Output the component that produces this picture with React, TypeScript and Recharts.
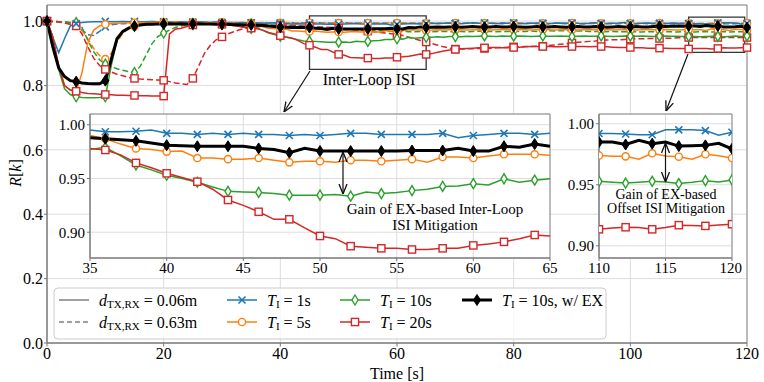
import React from 'react';
import { LineChart, Line, XAxis, YAxis, CartesianGrid, ReferenceArea } from 'recharts';

// time axis, one sample per second
const TIME = Array.from({ length: 121 }, (_, i) => i);

// d_TX,RX = 0.06 m
const T1_NEAR = [
  1.0, 0.95, 0.902, 0.945, 0.985, 0.992, 0.996, 0.997, 0.998, 0.998,
  0.999, 0.998, 0.998, 0.999, 0.998, 0.999, 0.998, 0.998, 0.999, 0.998,
  0.998, 0.998, 0.997, 0.998, 0.997, 0.997, 0.998, 0.997, 0.996, 0.997,
  0.996, 0.996, 0.995, 0.996, 0.995, 0.995, 0.9935, 0.9935, 0.994, 0.995,
  0.992, 0.992, 0.991, 0.992, 0.991, 0.992, 0.991, 0.991, 0.99, 0.991,
  0.99, 0.991, 0.992, 0.992, 0.991, 0.991, 0.991, 0.991, 0.992, 0.988,
  0.99, 0.991, 0.992, 0.992, 0.991, 0.992, 0.993, 0.992, 0.993, 0.994,
  0.993, 0.992, 0.993, 0.995, 0.993, 0.994, 0.993, 0.992, 0.994, 0.993,
  0.995, 0.993, 0.992, 0.993, 0.994, 0.993, 0.992, 0.993, 0.994, 0.993,
  0.994, 0.993, 0.992, 0.993, 0.995, 0.993, 0.992, 0.993, 0.994, 0.996,
  0.993, 0.992, 0.993, 0.994, 0.993, 0.993, 0.992, 0.994, 0.993, 0.993,
  0.992, 0.992, 0.9916, 0.991, 0.991, 0.995, 0.995, 0.995, 0.9944, 0.9907, 0.993,
];
const T5_NEAR = [
  1.0, 0.95, 0.86, 0.8, 0.786, 0.78, 0.84, 0.933, 0.972, 0.985,
  0.99, 0.992, 0.993, 0.994, 0.995, 0.995, 0.996, 0.996, 0.996, 0.997,
  0.997, 0.996, 0.997, 0.996, 0.996, 0.995, 0.996, 0.995, 0.995, 0.994,
  0.994, 0.993, 0.993, 0.992, 0.991, 0.99, 0.987, 0.982, 0.978, 0.977,
  0.975, 0.9755, 0.969, 0.969, 0.968, 0.9678, 0.969, 0.967, 0.965, 0.966,
  0.966, 0.9652, 0.967, 0.967, 0.966, 0.967, 0.968, 0.9652, 0.97, 0.97,
  0.969, 0.971, 0.9725, 0.9725, 0.9725, 0.9715, 0.972, 0.973, 0.972, 0.973,
  0.974, 0.973, 0.972, 0.973, 0.974, 0.973, 0.972, 0.973, 0.974, 0.973,
  0.973, 0.974, 0.973, 0.972, 0.973, 0.974, 0.973, 0.972, 0.973, 0.974,
  0.973, 0.972, 0.973, 0.974, 0.973, 0.974, 0.973, 0.972, 0.973, 0.974,
  0.973, 0.972, 0.973, 0.974, 0.973, 0.973, 0.974, 0.973, 0.972, 0.973,
  0.974, 0.9733, 0.9733, 0.971, 0.9758, 0.9735, 0.973, 0.971, 0.975, 0.9738, 0.972,
];
const T10_NEAR = [
  1.0, 0.95, 0.85, 0.79, 0.772, 0.765, 0.763, 0.762, 0.762, 0.763,
  0.765, 0.86, 0.94, 0.968, 0.978, 0.984, 0.987, 0.989, 0.99, 0.991,
  0.992, 0.992, 0.993, 0.992, 0.993, 0.992, 0.992, 0.991, 0.991, 0.99,
  0.99, 0.989, 0.987, 0.984, 0.98, 0.977, 0.979, 0.971, 0.9626, 0.958,
  0.953, 0.95, 0.9465, 0.942, 0.938, 0.9375, 0.937, 0.936, 0.9345, 0.9345,
  0.9345, 0.935, 0.9335, 0.9375, 0.936, 0.937, 0.9387, 0.94, 0.9426, 0.943,
  0.9452, 0.944, 0.9497, 0.9465, 0.9484, 0.9497, 0.95, 0.951, 0.95, 0.952,
  0.952, 0.951, 0.953, 0.952, 0.953, 0.954, 0.953, 0.952, 0.954, 0.953,
  0.953, 0.954, 0.953, 0.952, 0.953, 0.954, 0.953, 0.953, 0.954, 0.953,
  0.952, 0.953, 0.954, 0.953, 0.953, 0.954, 0.953, 0.952, 0.953, 0.954,
  0.953, 0.953, 0.954, 0.953, 0.952, 0.953, 0.954, 0.953, 0.953, 0.952,
  0.9528, 0.952, 0.9514, 0.952, 0.9528, 0.9522, 0.951, 0.952, 0.9534, 0.9522, 0.954,
];
const T20_NEAR = [
  1.0, 0.95, 0.86, 0.8, 0.786, 0.782, 0.778, 0.775, 0.774, 0.773,
  0.772, 0.771, 0.77, 0.77, 0.769, 0.769, 0.768, 0.768, 0.767, 0.767,
  0.767, 0.96, 0.975, 0.978, 0.983, 0.988, 0.99, 0.99, 0.991, 0.99,
  0.99, 0.988, 0.986, 0.983, 0.98, 0.978, 0.9765, 0.972, 0.9645, 0.96,
  0.9548, 0.951, 0.947, 0.94, 0.93, 0.925, 0.919, 0.912, 0.912, 0.904,
  0.8965, 0.894, 0.887, 0.886, 0.885, 0.885, 0.8839, 0.884, 0.885, 0.885,
  0.8877, 0.889, 0.891, 0.894, 0.8974, 0.8965, 0.899, 0.903, 0.907, 0.91,
  0.912, 0.914, 0.915, 0.916, 0.917, 0.917, 0.918, 0.918, 0.917, 0.917,
  0.918, 0.919, 0.92, 0.921, 0.921, 0.921, 0.921, 0.92, 0.92, 0.921,
  0.921, 0.921, 0.921, 0.92, 0.921, 0.921, 0.92, 0.919, 0.918, 0.918,
  0.918, 0.917, 0.917, 0.916, 0.916, 0.916, 0.916, 0.915, 0.915, 0.915,
  0.9135, 0.9145, 0.9152, 0.915, 0.9135, 0.915, 0.9169, 0.9166, 0.9163, 0.917, 0.9177,
];

// d_TX,RX = 0.63 m
const T1_FAR = [
  1.0, 0.999, 0.998, 0.997, 0.995, 0.988, 0.972, 0.958, 0.955, 0.968,
  0.982, 0.988, 0.991, 0.992, 0.993, 0.993, 0.994, 0.994, 0.995, 0.995,
  0.996, 0.995, 0.996, 0.996, 0.995, 0.996, 0.996, 0.995, 0.996, 0.996,
  0.995, 0.996, 0.995, 0.995, 0.996, 0.995, 0.995, 0.994, 0.995, 0.995,
  0.995, 0.994, 0.995, 0.994, 0.995, 0.994, 0.994, 0.995, 0.994, 0.994,
  0.994, 0.995, 0.994, 0.994, 0.993, 0.994, 0.994, 0.993, 0.994, 0.994,
  0.993, 0.994, 0.993, 0.994, 0.993, 0.993, 0.994, 0.993, 0.993, 0.994,
  0.993, 0.993, 0.994, 0.993, 0.993, 0.994, 0.993, 0.993, 0.992, 0.993,
  0.993, 0.992, 0.993, 0.993, 0.992, 0.993, 0.992, 0.993, 0.993, 0.992,
  0.993, 0.992, 0.992, 0.993, 0.992, 0.992, 0.993, 0.992, 0.992, 0.993,
  0.992, 0.992, 0.993, 0.992, 0.992, 0.992, 0.993, 0.992, 0.992, 0.992,
  0.992, 0.993, 0.992, 0.992, 0.992, 0.993, 0.992, 0.992, 0.992, 0.993, 0.992,
];
const T5_FAR = [
  1.0, 0.999, 0.998, 0.995, 0.99, 0.985, 0.97, 0.945, 0.915, 0.893,
  0.882, 0.9, 0.935, 0.962, 0.976, 0.983, 0.987, 0.99, 0.992, 0.993,
  0.994, 0.995, 0.995, 0.996, 0.995, 0.996, 0.996, 0.995, 0.996, 0.996,
  0.996, 0.995, 0.996, 0.995, 0.996, 0.995, 0.995, 0.996, 0.995, 0.995,
  0.995, 0.996, 0.995, 0.995, 0.994, 0.995, 0.995, 0.994, 0.995, 0.995,
  0.994, 0.995, 0.994, 0.995, 0.995, 0.994, 0.995, 0.994, 0.994, 0.995,
  0.994, 0.994, 0.995, 0.994, 0.994, 0.993, 0.994, 0.994, 0.993, 0.994,
  0.994, 0.993, 0.994, 0.994, 0.993, 0.994, 0.993, 0.994, 0.994, 0.993,
  0.993, 0.994, 0.993, 0.993, 0.994, 0.993, 0.993, 0.994, 0.993, 0.993,
  0.994, 0.993, 0.993, 0.994, 0.993, 0.993, 0.994, 0.993, 0.993, 0.994,
  0.993, 0.993, 0.994, 0.993, 0.993, 0.994, 0.993, 0.993, 0.994, 0.993,
  0.993, 0.994, 0.993, 0.993, 0.994, 0.993, 0.993, 0.994, 0.993, 0.993, 0.994,
];
const T10_FAR = [
  1.0, 0.999, 0.998, 0.997, 0.996, 0.995, 0.98, 0.94, 0.905, 0.88,
  0.866, 0.858, 0.852, 0.847, 0.843, 0.84, 0.86, 0.895, 0.93, 0.952,
  0.963, 0.972, 0.98, 0.985, 0.988, 0.99, 0.991, 0.991, 0.992, 0.991,
  0.991, 0.991, 0.99, 0.99, 0.99, 0.99, 0.989, 0.989, 0.988, 0.988,
  0.987, 0.986, 0.985, 0.984, 0.983, 0.982, 0.981, 0.979, 0.978, 0.976,
  0.975, 0.974, 0.973, 0.973, 0.972, 0.971, 0.97, 0.97, 0.969, 0.969,
  0.968, 0.968, 0.967, 0.967, 0.968, 0.968, 0.967, 0.968, 0.968, 0.967,
  0.968, 0.968, 0.967, 0.968, 0.969, 0.968, 0.968, 0.967, 0.968, 0.968,
  0.969, 0.968, 0.968, 0.969, 0.968, 0.969, 0.97, 0.969, 0.97, 0.97,
  0.97, 0.969, 0.969, 0.968, 0.968, 0.968, 0.967, 0.968, 0.967, 0.967,
  0.967, 0.967, 0.966, 0.967, 0.967, 0.966, 0.967, 0.967, 0.966, 0.967,
  0.967, 0.966, 0.967, 0.967, 0.966, 0.967, 0.967, 0.966, 0.967, 0.967, 0.966,
];
const T20_FAR = [
  1.0, 0.999, 0.997, 0.994, 0.99, 0.985, 0.96, 0.92, 0.885, 0.862,
  0.85, 0.842, 0.835, 0.83, 0.825, 0.822, 0.82, 0.819, 0.818, 0.817,
  0.816, 0.812, 0.808, 0.805, 0.803, 0.822, 0.86, 0.9, 0.925, 0.942,
  0.951, 0.96, 0.967, 0.973, 0.978, 0.98, 0.982, 0.984, 0.985, 0.986,
  0.988, 0.988, 0.987, 0.986, 0.985, 0.984, 0.983, 0.982, 0.981, 0.98,
  0.979, 0.977, 0.975, 0.973, 0.971, 0.969, 0.967, 0.965, 0.963, 0.961,
  0.959, 0.955, 0.95, 0.945, 0.94, 0.935, 0.93, 0.925, 0.92, 0.916,
  0.913, 0.913, 0.914, 0.914, 0.915, 0.915, 0.916, 0.917, 0.918, 0.919,
  0.92, 0.92, 0.921, 0.921, 0.922, 0.922, 0.924, 0.926, 0.928, 0.93,
  0.932, 0.934, 0.936, 0.937, 0.938, 0.94, 0.941, 0.942, 0.942, 0.943,
  0.944, 0.945, 0.945, 0.946, 0.946, 0.946, 0.947, 0.947, 0.948, 0.948,
  0.949, 0.949, 0.949, 0.949, 0.949, 0.949, 0.949, 0.949, 0.949, 0.949, 0.949,
];

// T_I = 10 s with EX, d_TX,RX = 0.06 m
const T10_EX = [
  1.0, 0.92, 0.855, 0.828, 0.815, 0.812, 0.808, 0.806, 0.805, 0.805,
  0.815, 0.88, 0.945, 0.968, 0.978, 0.985, 0.988, 0.99, 0.99, 0.991,
  0.991, 0.992, 0.991, 0.992, 0.991, 0.991, 0.992, 0.991, 0.991, 0.99,
  0.99, 0.99, 0.989, 0.989, 0.988, 0.988, 0.987, 0.986, 0.985, 0.983,
  0.981, 0.9805, 0.98, 0.98, 0.98, 0.98, 0.978, 0.977, 0.974, 0.978,
  0.9755, 0.9755, 0.9755, 0.9755, 0.9755, 0.9755, 0.976, 0.976, 0.976, 0.978,
  0.9755, 0.9755, 0.98, 0.979, 0.982, 0.98, 0.981, 0.982, 0.981, 0.982,
  0.982, 0.981, 0.982, 0.983, 0.982, 0.981, 0.982, 0.983, 0.982, 0.982,
  0.983, 0.982, 0.981, 0.982, 0.983, 0.982, 0.982, 0.983, 0.982, 0.981,
  0.982, 0.983, 0.982, 0.982, 0.983, 0.982, 0.981, 0.982, 0.983, 0.982,
  0.982, 0.983, 0.982, 0.982, 0.983, 0.984, 0.983, 0.984, 0.985, 0.984,
  0.985, 0.985, 0.983, 0.9865, 0.9837, 0.985, 0.9817, 0.982, 0.9823, 0.984, 0.9795,
];

const MAIN_X_TICKS = [0, 20, 40, 60, 80, 100, 120];
const MAIN_Y_TICKS = [0, 0.2, 0.4, 0.6, 0.8, 1.0];
const ZOOM1_X_TICKS = [35, 40, 45, 50, 55, 60, 65];
const ZOOM2_X_TICKS = [110, 115, 120];
const ZOOM_Y_TICKS = [0.9, 0.95, 1.0];

const BLUE = '#1f77b4';
const ORANGE = '#ff7f0e';
const GREEN = '#2ca02c';
const RED = '#d62728';
const FONT = 'Liberation Serif, DejaVu Serif, Times New Roman, serif';

const rows = TIME.map((t, i) => ({
  t,
  b1: T1_NEAR[i], o1: T5_NEAR[i], g1: T10_NEAR[i], r1: T20_NEAR[i],
  b2: T1_FAR[i], o2: T5_FAR[i], g2: T10_FAR[i], r2: T20_FAR[i],
  ex: T10_EX[i],
}));
const zoom1Rows = rows.filter((r) => r.t >= 35 && r.t <= 65);
const zoom2Rows = rows.filter((r) => r.t >= 110 && r.t <= 120);

const SOLID = [
  { key: 'b1', color: BLUE, kind: 'x' },
  { key: 'o1', color: ORANGE, kind: 'o' },
  { key: 'g1', color: GREEN, kind: 'd' },
  { key: 'r1', color: RED, kind: 's' },
];
const DASHED = [
  { key: 'b2', color: BLUE, kind: 'x' },
  { key: 'o2', color: ORANGE, kind: 'o' },
  { key: 'g2', color: GREEN, kind: 'd' },
  { key: 'r2', color: RED, kind: 's' },
];

function markerShape(kind: string, x: number, y: number, color: string) {
  if (kind === 'x') {
    return (
      <g stroke={color} strokeWidth={1.6}>
        <line x1={x - 3.5} y1={y - 3.5} x2={x + 3.5} y2={y + 3.5} />
        <line x1={x - 3.5} y1={y + 3.5} x2={x + 3.5} y2={y - 3.5} />
      </g>
    );
  }
  if (kind === 'o') return <circle cx={x} cy={y} r={3.6} fill="#fff" stroke={color} strokeWidth={1.4} />;
  if (kind === 's') return <rect x={x - 3.6} y={y - 3.6} width={7.2} height={7.2} fill="#fff" stroke={color} strokeWidth={1.4} />;
  if (kind === 'd') {
    return <polygon points={`${x},${y - 5} ${x + 3},${y} ${x},${y + 5} ${x - 3},${y}`} fill="#fff" stroke={color} strokeWidth={1.4} />;
  }
  return <polygon points={`${x},${y - 5.5} ${x + 3.5},${y} ${x},${y + 5.5} ${x - 3.5},${y}`} fill="#000" stroke="#000" strokeWidth={1} />;
}

const dotEvery = (kind: string, color: string, step: number) => (p: any) => {
  const key = `${kind}-${color}-${p.index}`;
  if (!p.payload || p.payload.t % step !== 0 || p.cx == null) return <g key={key} />;
  return <g key={key}>{markerShape(kind, p.cx, p.cy, color)}</g>;
};

const tickStyle = (size: number) => ({ fontSize: size, fill: '#000', fontFamily: FONT, style: { fontFamily: FONT } });

function seriesLines(step: number, withDashed: boolean) {
  const out: React.ReactNode[] = [];
  if (withDashed) {
    DASHED.forEach((s) =>
      out.push(
        <Line key={s.key} type="linear" dataKey={s.key} stroke={s.color} strokeWidth={1.5}
          strokeDasharray="6 3" dot={dotEvery(s.kind, s.color, step)} activeDot={false} isAnimationActive={false} />
      )
    );
  }
  SOLID.forEach((s) =>
    out.push(
      <Line key={s.key} type="linear" dataKey={s.key} stroke={s.color} strokeWidth={1.5}
        dot={dotEvery(s.kind, s.color, step)} activeDot={false} isAnimationActive={false} />
    )
  );
  out.push(
    <Line key="ex" type="linear" dataKey="ex" stroke="#000" strokeWidth={3}
      dot={dotEvery('ex', '#000', step)} activeDot={false} isAnimationActive={false} />
  );
  return out;
}

function Inset({ data, xDomain, xTicks, yDomain, width, yWidth }: any) {
  return (
    <LineChart width={width} height={168} data={data} margin={{ top: 4, right: 10, bottom: 0, left: 0 }}>
      <CartesianGrid stroke="#dddddd" fill="#fff" fillOpacity={1} />
      <XAxis dataKey="t" type="number" domain={xDomain} ticks={xTicks} allowDataOverflow height={20}
        tickSize={3} tickMargin={1} stroke="#777" tick={tickStyle(15)} />
      <YAxis type="number" domain={yDomain} ticks={ZOOM_Y_TICKS} allowDataOverflow width={yWidth}
        tickSize={3} tickMargin={2} stroke="#777" tick={tickStyle(15)} tickFormatter={(v: number) => v.toFixed(2)} />
      {seriesLines(2, false)}
      <ReferenceArea x1={xDomain[0]} x2={xDomain[1]} y1={yDomain[0]} y2={yDomain[1]}
        fillOpacity={0} stroke="#888" strokeWidth={1} ifOverflow="visible" />
    </LineChart>
  );
}

function LegendRow({ x, y, kind, color, dashed, thick, children }: any) {
  return (
    <g>
      <line x1={x} y1={y} x2={x + 30} y2={y} stroke={color} strokeWidth={thick ? 3 : 1.5}
        strokeDasharray={dashed ? '5 3' : undefined} />
      {kind ? markerShape(kind, x + 15, y, color) : null}
      <text x={x + 40} y={y} dominantBaseline="central" fontSize={16} style={{ fontFamily: FONT }}>{children}</text>
    </g>
  );
}

const TI = (label: string) => (
  <>
    <tspan fontStyle="italic">T</tspan>
    <tspan fontSize={11} dy={4}>I</tspan>
    <tspan dy={-4}>{` =  ${label}`}</tspan>
  </>
);
const DIST = (label: string) => (
  <>
    <tspan fontStyle="italic">d</tspan>
    <tspan fontSize={11} dy={4}>TX,RX</tspan>
    <tspan dy={-4}>{` = ${label}`}</tspan>
  </>
);

function Label({ x, y, size, children }: any) {
  return (
    <text x={x} y={y} textAnchor="middle" dominantBaseline="central" fontSize={size} style={{ fontFamily: FONT }}>
      {children}
    </text>
  );
}

function Overlay() {
  return (
    <svg width={764} height={382} style={{ position: 'absolute', left: 0, top: 0, pointerEvents: 'none' }}>
      <defs>
        <marker id="head" viewBox="0 0 10 10" refX="10" refY="5" markerWidth="10" markerHeight="10"
          markerUnits="userSpaceOnUse" orient="auto-start-reverse">
          <path d="M0,1 L10,5 L0,9" fill="none" stroke="#111" strokeWidth={1.3} />
        </marker>
      </defs>
      <Label x={369} y={79} size={16}>Inter-Loop ISI</Label>
      <line x1={310} y1={71} x2={284} y2={112} stroke="#111" strokeWidth={1.2} markerEnd="url(#head)" />
      <line x1={688} y1={54} x2={666} y2={111} stroke="#111" strokeWidth={1.2} markerEnd="url(#head)" />

      <line x1={343} y1={152} x2={343} y2={194} stroke="#111" strokeWidth={1.2} markerStart="url(#head)" markerEnd="url(#head)" />
      <Label x={435} y={209} size={15}>Gain of EX-based Inter-Loop</Label>
      <Label x={435} y={225} size={15}>ISI Mitigation</Label>

      <line x1={665.5} y1={143} x2={665.5} y2={182} stroke="#111" strokeWidth={1.2} markerStart="url(#head)" markerEnd="url(#head)" />
      <Label x={666} y={194} size={14}>Gain of EX-based</Label>
      <Label x={666} y={208} size={14}>Offset ISI Mitigation</Label>

      <rect x={54} y={288} width={552} height={51} rx={4} fill="#fff" fillOpacity={0.8} stroke="#cccccc" />
      <LegendRow x={59} y={300} color="#808080">{DIST('0.06m')}</LegendRow>
      <LegendRow x={59} y={322} color="#808080" dashed>{DIST('0.63m')}</LegendRow>
      <LegendRow x={227} y={300} kind="x" color={BLUE}>{TI('1s')}</LegendRow>
      <LegendRow x={227} y={322} kind="o" color={ORANGE}>{TI('5s')}</LegendRow>
      <LegendRow x={340} y={300} kind="d" color={GREEN}>{TI('10s')}</LegendRow>
      <LegendRow x={340} y={322} kind="s" color={RED}>{TI('20s')}</LegendRow>
      <LegendRow x={462} y={300} kind="ex" color="#000" thick>{TI('10s, w/ EX')}</LegendRow>

      <Label x={397} y={373} size={16}>Time [s]</Label>
      <text transform="translate(15,173) rotate(-90)" textAnchor="middle" dominantBaseline="central" fontSize={16} style={{ fontFamily: FONT }}>
        <tspan fontStyle="italic">R</tspan>[<tspan fontStyle="italic">k</tspan>]
      </text>
    </svg>
  );
}

export default function App() {
  return (
    <div style={{ position: 'absolute', left: 0, top: 0, width: 764, height: 382, background: '#fff', fontFamily: FONT }}>
      <div style={{ position: 'absolute', left: 0, top: 0 }}>
        <LineChart width={764} height={382} data={rows} margin={{ top: 5, right: 17, bottom: 9, left: 17 }}>
          <CartesianGrid stroke="#dddddd" />
          <XAxis dataKey="t" type="number" domain={[0, 120]} ticks={MAIN_X_TICKS} height={30}
            tickSize={3.5} tickMargin={1} stroke="#777" tick={tickStyle(16)} />
          <YAxis type="number" domain={[0, 1.05]} ticks={MAIN_Y_TICKS} width={30}
            tickSize={3} tickMargin={1} stroke="#777" tick={tickStyle(16)} tickFormatter={(v: number) => v.toFixed(1)} />
          {seriesLines(5, true)}
          <ReferenceArea x1={0} x2={120} y1={0} y2={1.05} fillOpacity={0} stroke="#888" strokeWidth={1} ifOverflow="visible" />
          <ReferenceArea x1={45} x2={65} y1={0.85} y2={1.016} fillOpacity={0} stroke="#333" strokeWidth={1.3} ifOverflow="visible" />
          <ReferenceArea x1={110} x2={119.6} y1={0.903} y2={1.0125} fillOpacity={0} stroke="#333" strokeWidth={1.3} ifOverflow="visible" />
        </LineChart>
      </div>
      <div style={{ position: 'absolute', left: 50, top: 110 }}>
        <Inset data={zoom1Rows} xDomain={[35, 65]} xTicks={ZOOM1_X_TICKS} yDomain={[0.876, 1.01]} width={510} yWidth={40} />
      </div>
      <div style={{ position: 'absolute', left: 555, top: 110 }}>
        <Inset data={zoom2Rows} xDomain={[110, 120]} xTicks={ZOOM2_X_TICKS} yDomain={[0.89, 1.008]} width={187} yWidth={44} />
      </div>
      <Overlay />
    </div>
  );
}
